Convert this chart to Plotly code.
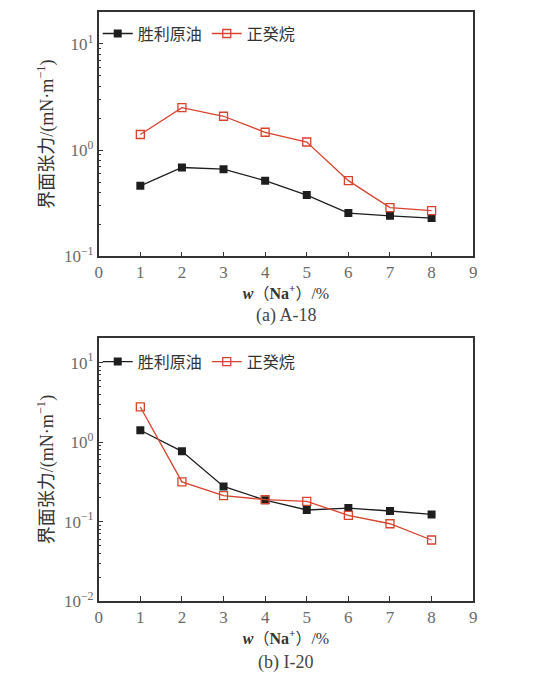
import plotly.graph_objects as go
from plotly.subplots import make_subplots

na_pct = [1, 2, 3, 4, 5, 6, 7, 8]

# (a) A-18
a_crude = [0.46, 0.685, 0.66, 0.515, 0.377, 0.255, 0.24, 0.229]
a_decane = [1.40, 2.51, 2.08, 1.47, 1.19, 0.515, 0.287, 0.269]

# (b) I-20
b_crude = [1.41, 0.766, 0.277, 0.186, 0.14, 0.148, 0.136, 0.123]
b_decane = [2.77, 0.316, 0.212, 0.189, 0.180, 0.12, 0.094, 0.0587]

names = ["胜利原油", "正癸烷"]
captions = ["(a) A-18", "(b) I-20"]

serif = "Liberation Serif, Noto Sans CJK SC"
black = "#1e1e1e"
red = "#d8432e"
grey = "#6a6a6a"

fig = make_subplots(rows=2, cols=1)

panels = [(a_crude, a_decane, "legend"), (b_crude, b_decane, "legend2")]
for i, (crude, decane, leg) in enumerate(panels, start=1):
    fig.add_trace(go.Scatter(
        x=na_pct, y=crude, name=names[0], mode="lines+markers", legend=leg,
        line=dict(color=black, width=1.3),
        marker=dict(symbol="square", size=8, color=black)), row=i, col=1)
    fig.add_trace(go.Scatter(
        x=na_pct, y=decane, name=names[1], mode="lines+markers", legend=leg,
        line=dict(color=red, width=1.3),
        marker=dict(symbol="square-open", size=8, color=red, line=dict(width=1.3))), row=i, col=1)

xdom = [88 / 550, 468 / 550]
ydoms = [[1 - 252 / 674, 1 - 4 / 674], [1 - 602 / 674, 1 - 335 / 674]]
yranges = [[-1, 1.3], [-2, 1.31]]
yticks = [[0.1, 1, 10], [0.01, 0.1, 1, 10]]
ytext = [["10<sup>−1</sup>", "10<sup>0</sup>", "10<sup>1</sup>"],
         ["10<sup>−2</sup>", "10<sup>−1</sup>", "10<sup>0</sup>", "10<sup>1</sup>"]]
minor_ticks = [[d * m for d in (0.1, 1, 10) for m in range(2, 10)],
               [d * m for d in (0.01, 0.1, 1, 10) for m in range(2, 10)]]

axis_common = dict(showline=True, linecolor="#333333", linewidth=1.5, mirror=True,
                   ticks="inside", tickcolor="#333333", ticklen=5,
                   showgrid=False, zeroline=False,
                   tickfont=dict(family=serif, size=17, color=grey))

for i in range(2):
    fig.update_xaxes(axis_common, row=i + 1, col=1, domain=xdom, range=[0, 9],
                     tickvals=list(range(10)), title=dict(
                         text="<b><i>w</i></b>（<b>Na<sup>+</sup></b>）/%",
                         font=dict(family=serif, size=16, color="#333333"), standoff=0))
    fig.update_yaxes(axis_common, row=i + 1, col=1, domain=ydoms[i], type="log",
                     range=yranges[i], tickvals=yticks[i], ticktext=ytext[i],
                     minor=dict(ticks="inside", tickvals=minor_ticks[i], ticklen=3,
                                tickcolor="#333333"),
                     title=dict(text="界面张力/(mN·m<sup>−1</sup>)",
                                font=dict(family=serif, size=18, color="#333333"), standoff=6))

leg_style = dict(orientation="h", x=87 / 550, xanchor="left", yanchor="middle",
                 bgcolor="rgba(0,0,0,0)", itemwidth=30, tracegroupgap=0,
                 font=dict(family="Noto Sans CJK SC", size=16, color="#333333"))
fig.update_layout(
    legend=dict(leg_style, y=1 - 26 / 674, yref="paper"),
    legend2=dict(leg_style, y=1 - 359 / 674, yref="paper"),
)

for cap, ypix in zip(captions, [312, 664]):
    fig.add_annotation(text=cap, x=(88 + 468) / 2 / 550, y=1 - ypix / 674,
                       xref="paper", yref="paper", showarrow=False, yanchor="middle",
                       font=dict(family=serif, size=18, color="#444444"))

fig.update_layout(width=550, height=674, margin=dict(l=0, r=0, t=0, b=0),
                  paper_bgcolor="white", plot_bgcolor="white", showlegend=True)

fig.write_html("out.html")
